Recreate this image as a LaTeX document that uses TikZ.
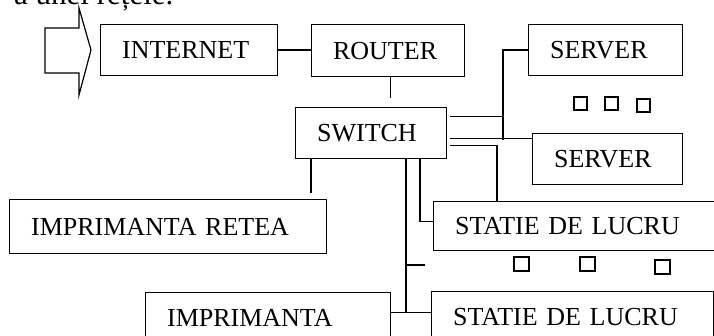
\documentclass[tikz,border=0pt]{standalone}
\usepackage{fontspec}
\setmainfont{Liberation Serif}
\usetikzlibrary{arrows.meta}

\tikzset{
    netbox/.style={draw, line width=1.2pt, anchor=north west, align=left,
        inner xsep=21.5pt, inner ysep=0pt, minimum height=#1,
        font=\fontsize{26}{30}\selectfont},
    netbox/.default=51pt,
    link/.style={line width=1.2pt},
    dotbox/.style={line width=1.2pt}
}

\begin{document}
\begin{tikzpicture}[x=1pt, y=-1pt]
    \useasboundingbox (0,0) rectangle (714,336);
    \clip (0,0) rectangle (714,336);

    % Heading line (cut at the top)
    \node[anchor=base west, inner sep=0pt, font=\fontsize{31}{36}\selectfont] (heading) at (14,5) {a unei rețele.};

    % Input arrow
    \draw[link] (45,28) -- (79,28) -- (79,8) -- (91,50) -- (79,95) -- (79,73) -- (45,73) -- cycle;

    % Boxes
    \node[netbox, text width=134pt] (internet) at (100,24) {INTERNET};
    \node[netbox=52pt, text width=110pt] (router) at (311,24) {ROUTER};
    \node[netbox, text width=111pt] (serverA) at (528,24) {SERVER};
    \node[netbox, text width=108pt] (switch) at (295,107) {SWITCH};
    \node[netbox, text width=107pt] (serverB) at (532,133) {SERVER};
    \node[netbox=54pt, text width=274pt] (impretea) at (9,199) {IMPRIMANTA RETEA};
    \node[netbox=49pt, text width=244pt] (statieA) at (433,201) {STATIE DE LUCRU};
    \node[netbox, text width=202pt] (impr) at (145,292) {IMPRIMANTA};
    \node[netbox, text width=239pt] (statieB) at (431,291) {STATIE DE LUCRU};

    % Internet - router - switch
    \draw[link] (internet.east) -- (internet.east -| router.west);
    \coordinate (rs) at ([xshift=2.5pt]router.south);
    \draw[link, shorten >=9pt] (rs) -- (rs |- switch.north);

    % Switch to the servers
    \coordinate (busend) at (503,140);
    \coordinate (swA) at ([yshift=16.5pt]switch.east);
    \coordinate (swB) at ([yshift=-5.5pt]switch.east);
    \coordinate (swC) at ([yshift=-12.5pt]switch.east);
    \draw[link] (serverA.west) -| (busend);
    \draw[link, shorten <=3pt] (swA) -- (swA -| busend);
    \draw[link, shorten <=3pt] (swB) -- (swB -| serverB.west);
    \draw[link, shorten <=3pt] (swC) -| ([xshift=64pt]statieA.north west);

    % Switch to printers and workstations
    \coordinate (sd1) at ([xshift=16pt]switch.south west);
    \coordinate (sd2) at ([xshift=111pt]switch.south west);
    \coordinate (sd3) at ([xshift=125pt]switch.south west);
    \draw[link, shorten >=6pt] (sd1) -- (sd1 |- impretea.north);
    \draw[link] (sd3) |- ([yshift=4.5pt]statieA.west);
    \coordinate (lan) at ([yshift=5.5pt]impr.east);
    \draw[link] (lan) -- (lan -| statieB.west);
    \draw[link] (sd2) -- (sd2 |- lan);
    \draw[link] (sd2 |- 0,265) -- ++(19,0);

    % More servers / workstations
    \foreach \x/\y in {574/97, 605/97, 637/99}
        \draw[dotbox] (\x,\y) rectangle ++(13,13);
    \foreach \x/\y in {514/257, 580/257, 655/260}
        \draw[dotbox] (\x,\y) rectangle ++(15,14);
\end{tikzpicture}
\end{document}
